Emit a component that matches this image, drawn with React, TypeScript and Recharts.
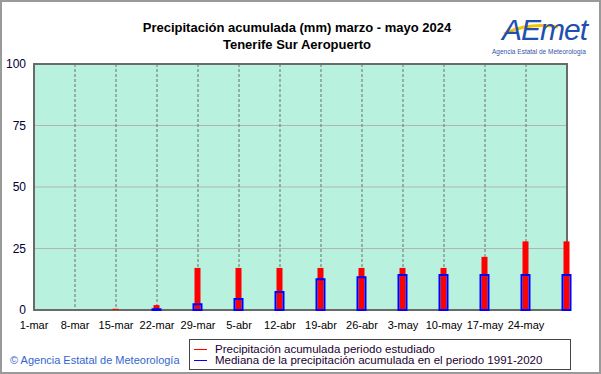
import {
  Bar,
  CartesianGrid,
  ComposedChart,
  ReferenceArea,
  XAxis,
  YAxis,
} from "recharts";

// fechas semanales (la última no lleva etiqueta)
const categories = [
  "1-mar", "8-mar", "15-mar", "22-mar", "29-mar", "5-abr", "12-abr",
  "19-abr", "26-abr", "3-may", "10-may", "17-may", "24-may", "31-may",
];
const studied = [0, 0, 0.5, 2, 17.1, 17.1, 17.1, 17.1, 17.1, 17.1, 17.1, 21.6, 27.9, 27.9];
const median = [0, 0, 0, 0.3, 2.3, 4.5, 7.3, 12.5, 13.3, 14.2, 14.2, 14.2, 14.2, 14.2];
const yTicks = [0, 25, 50, 75, 100];

const FONT = "'Liberation Sans', Arial, sans-serif";
const RED = "#ff0000";
const BLUE = "#0000ff";

const rows = categories.map((label, i) => ({
  idx: i,
  label,
  studied: studied[i],
  median: median[i],
}));

const xTicks = categories.slice(0, 13).map((_, i) => i);

const legendItems = [
  { color: RED, text: "Precipitación acumulada periodo estudiado" },
  { color: BLUE, text: "Mediana de la precipitación acumulada en el periodo 1991-2020" },
];

function LegendBox() {
  return (
    <div
      style={{
        position: "absolute",
        left: 187,
        top: 337,
        width: 382,
        height: 31,
        border: "1px solid #444",
        background: "#fff",
        padding: "4px 0 0 4px",
        boxSizing: "border-box",
      }}
    >
      {legendItems.map((it) => (
        <div
          key={it.text}
          style={{ display: "flex", alignItems: "center", height: 11, lineHeight: "11px", fontSize: 11.5, color: "#200030" }}
        >
          <div style={{ width: 13, height: 1, flexShrink: 0, backgroundColor: it.color, marginRight: 8 }} />
          <span>{it.text}</span>
        </div>
      ))}
    </div>
  );
}

function Logo() {
  return (
    <svg width={110} height={56} style={{ position: "absolute", left: 484, top: 2 }}>
      <path d="M 18 30 Q 42 18 72 23" stroke="#f5c400" strokeWidth={3} fill="none" />
      <text x={16} y={36} fontFamily={FONT} fontStyle="italic" fontSize={30} fill="#1f4fb0" letterSpacing={-1}>
        AEmet
      </text>
      <text x={6} y={50} fontFamily={FONT} fontSize={6.5} fill="#3355aa">
        Agencia Estatal de Meteorología
      </text>
    </svg>
  );
}

export default function App() {
  return (
    <div
      style={{
        position: "absolute",
        left: 0,
        top: 0,
        width: 601,
        height: 374,
        background: "#fff",
        boxSizing: "border-box",
        border: "2px solid #9a9a9a",
        fontFamily: FONT,
      }}
    >
      <div
        style={{
          position: "absolute",
          left: 0,
          top: 17,
          width: 590,
          textAlign: "center",
          fontWeight: "bold",
          fontSize: 13,
          lineHeight: "17px",
          color: "#000",
        }}
      >
        Precipitación acumulada (mm) marzo - mayo 2024
        <br />
        Tenerife Sur Aeropuerto
      </div>
      <Logo />
      <div
        style={{
          position: "absolute",
          left: 8,
          top: 352,
          fontSize: 11,
          color: "#3366cc",
        }}
      >
        © Agencia Estatal de Meteorología
      </div>
      <div style={{ position: "absolute", left: -2, top: -2 }}>
        <ComposedChart
          width={601}
          height={374}
          data={rows}
          margin={{ top: 64, right: 34, bottom: 44, left: 8 }}
        >
          <CartesianGrid vertical={false} stroke="#b4b4b4" fill="#b8f2de" />
          <CartesianGrid horizontal={false} stroke="#6e6e6e" strokeDasharray="3 2" />
          <ReferenceArea x1={0} x2={13} y1={0} y2={100} fill="none" stroke="#6a6a6a" strokeWidth={2} />
          <XAxis
            dataKey="idx"
            type="number"
            domain={[0, 13]}
            ticks={xTicks}
            tickFormatter={(v: number) => categories[v]}
            axisLine={false}
            tickLine={false}
            tickMargin={5}
            height={20}
            interval={0}
            tick={{ fill: "#000", fontSize: 11, fontFamily: FONT }}
          />
          <XAxis xAxisId="b" dataKey="idx" type="number" domain={[0, 13]} ticks={xTicks} hide />
          <YAxis
            domain={[0, 100]}
            ticks={yTicks}
            width={26}
            axisLine={false}
            tickLine={false}
            tick={{ fill: "#000033", fontSize: 12, fontFamily: FONT }}
          />
          <Bar dataKey="studied" fill={RED} barSize={6} isAnimationActive={false} />
          <Bar
            xAxisId="b"
            dataKey="median"
            fill="none"
            stroke={BLUE}
            strokeWidth={2}
            barSize={8}
            isAnimationActive={false}
          />
        </ComposedChart>
      </div>
      <LegendBox />
    </div>
  );
}
